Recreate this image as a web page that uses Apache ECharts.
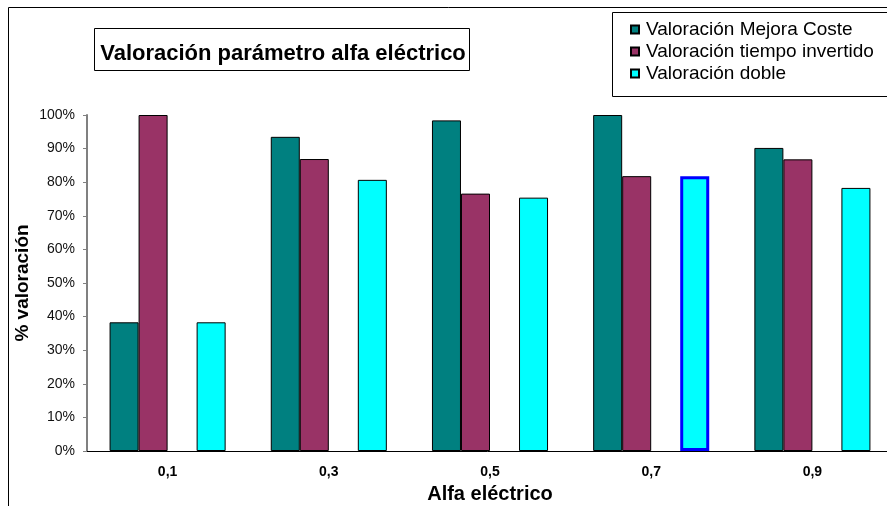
<!DOCTYPE html>
<html>
<head>
<meta charset="utf-8">
<script src="https://cdn.jsdelivr.net/npm/echarts@6/dist/echarts.min.js"></script>
<style>
  html, body { margin: 0; padding: 0; background: #fff; }
  #chart { width: 887px; height: 506px; }
</style>
</head>
<body>
<div id="chart"></div>
<script>
var categories = ['0,1', '0,3', '0,5', '0,7', '0,9'];
var mejoraCoste = [38.3, 93.5, 98.4, 100, 90.2];
var tiempoInvertido = [100, 86.9, 76.6, 81.8, 86.8];
var doble = [38.3, 80.7, 75.4, 81.8, 78.3];
var vacio = [null, null, null, null, null];

var chart = echarts.init(document.getElementById('chart'));
var font = '"Liberation Sans", Arial, sans-serif';

// la barra de 0,7 lleva el borde azul
var dobleData = doble.map(function (v, i) {
	if (i === 3) {
		return { value: v, itemStyle: { borderColor: '#0000ff', borderWidth: 3 } };
	}
	return v;
});

var option = {
	animation: false,
	textStyle: { fontFamily: font },
	title: {
		text: 'Valoración parámetro alfa eléctrico',
		left: 278,
		top: 38,
		textAlign: 'center',
		textStyle: { fontFamily: font, fontSize: 22, fontWeight: 'bold', color: '#000' }
	},
	graphic: [
		{ type: 'rect', shape: { x: 8.5, y: 7.5, width: 900, height: 520 },
		  style: { fill: 'none', stroke: '#000', lineWidth: 1 } },
		{ type: 'rect', shape: { x: 94.5, y: 28.5, width: 375, height: 42 },
		  style: { fill: 'none', stroke: '#000', lineWidth: 1 } },
		{ type: 'rect', shape: { x: 612.5, y: 12.5, width: 300, height: 84 },
		  style: { fill: 'none', stroke: '#000', lineWidth: 1 } }
	],
	legend: {
		data: ['Valoración Mejora Coste', 'Valoración tiempo invertido', 'Valoración doble'],
		orient: 'vertical',
		left: 625,
		top: 15,
		itemWidth: 8,
		itemHeight: 8,
		itemGap: 3,
		icon: 'rect',
		textStyle: { fontFamily: font, fontSize: 19, color: '#000', padding: [0, 0, 0, 2] }
	},
	grid: { left: 87, top: 115, width: 806, height: 336, outerBoundsMode: 'none' },
	xAxis: {
		type: 'category',
		data: categories,
		name: 'Alfa eléctrico',
		nameLocation: 'middle',
		nameGap: 33,
		nameTextStyle: { fontFamily: font, fontSize: 20, fontWeight: 'bold', color: '#000' },
		axisLine: { lineStyle: { color: '#000', width: 1 } },
		axisTick: { length: 5, lineStyle: { color: '#000' } },
		axisLabel: { margin: 14, fontFamily: font, fontSize: 14, fontWeight: 'bold', color: '#000' }
	},
	yAxis: {
		type: 'value',
		min: 0,
		max: 100,
		interval: 10,
		name: '% valoración',
		nameLocation: 'middle',
		nameGap: 55,
		nameMoveOverlap: false,
		nameTextStyle: { fontFamily: font, fontSize: 19, fontWeight: 'bold', color: '#000' },
		axisLine: { show: true, lineStyle: { color: '#808080', width: 2 } },
		axisTick: { show: true, length: 4, lineStyle: { color: '#808080' } },
		splitLine: { show: false },
		axisLabel: { formatter: '{value}%', margin: 12, fontFamily: font, fontSize: 14, color: '#111' }
	},
	series: [
		{
			name: 'Valoración Mejora Coste',
			type: 'bar',
			barGap: '0%',
			barCategoryGap: '28%',
			itemStyle: { color: '#008080', borderColor: '#000', borderWidth: 1 },
			data: mejoraCoste
		},
		{
			name: 'Valoración tiempo invertido',
			type: 'bar',
			itemStyle: { color: '#993366', borderColor: '#000', borderWidth: 1 },
			data: tiempoInvertido
		},
		{
			name: 'vacio',
			type: 'bar',
			data: vacio
		},
		{
			name: 'Valoración doble',
			type: 'bar',
			itemStyle: { color: '#00ffff', borderColor: '#000', borderWidth: 1 },
			data: dobleData
		}
	]
};

chart.setOption(option);
</script>
</body>
</html>
